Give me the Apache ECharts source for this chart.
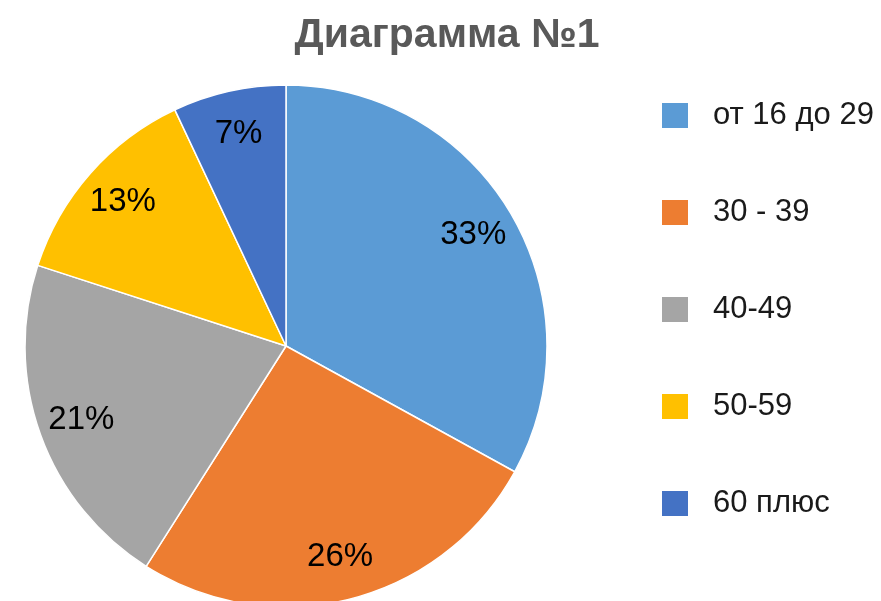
<!DOCTYPE html>
<html>
<head>
    <meta charset="utf-8">
    <title>Диаграмма №1</title>
    <script src="https://cdn.jsdelivr.net/npm/echarts@6/dist/echarts.min.js"></script>
    <style>
        html, body { margin: 0; padding: 0; background: #fff; }
        #chart1 { width: 881px; height: 601px; }
    </style>
</head>
<body>
<div id="chart1"></div>
<script>
    // 数据
    var categories = ['от 16 до 29', '30 - 39', '40-49', '50-59', '60 плюс'];
    var values = [33, 26, 21, 13, 7];
    var colors = ['#5B9BD5', '#ED7D31', '#A5A5A5', '#FFC000', '#4472C4'];

    var pieData = [];
    for (var i = 0; i < categories.length; i++) {
        pieData.push({ name: categories[i], value: values[i], itemStyle: { color: colors[i] } });
    }

    var myChart = echarts.init(document.getElementById('chart1'));
    var font = '"Liberation Sans", Arial, sans-serif';

    var option = {
        backgroundColor: '#fff',
        animation: false,
        title: {
            text: 'Диаграмма №1',
            left: 447,
            textAlign: 'center',
            top: 15,
            padding: 0,
            textStyle: { fontFamily: font, fontSize: 41, fontWeight: 'bold', color: '#595959' }
        },
        legend: {
            orient: 'vertical',
            left: 660,
            top: 100,
            padding: 0,
            icon: 'rect',
            itemWidth: 28,
            itemHeight: 27,
            itemGap: 66,
            data: categories,
            textStyle: { fontFamily: font, fontSize: 31, color: '#1a1a1a', lineHeight: 27, padding: [0, 0, 0, 19] }
        },
        series: [{
            // 扇区
            type: 'pie',
            center: [286, 346],
            radius: [0, 261],
            startAngle: 90,
            clockwise: true,
            silent: true,
            itemStyle: { borderColor: '#fff', borderWidth: 1.5 },
            label: { show: false },
            labelLine: { show: false },
            data: pieData
        }, {
            // 透明层，只用来放标签
            type: 'pie',
            center: [286, 346],
            radius: [168, 261],
            startAngle: 90,
            clockwise: true,
            silent: true,
            itemStyle: { color: 'rgba(0,0,0,0)', borderWidth: 0 },
            label: {
                show: true,
                position: 'inside',
                formatter: '{c}%',
                fontFamily: font,
                fontSize: 33,
                color: '#000'
            },
            labelLine: { show: false },
            data: categories.map(function (c, i) { return { name: c, value: values[i] }; })
        }]
    };

    myChart.setOption(option);
</script>
</body>
</html>
